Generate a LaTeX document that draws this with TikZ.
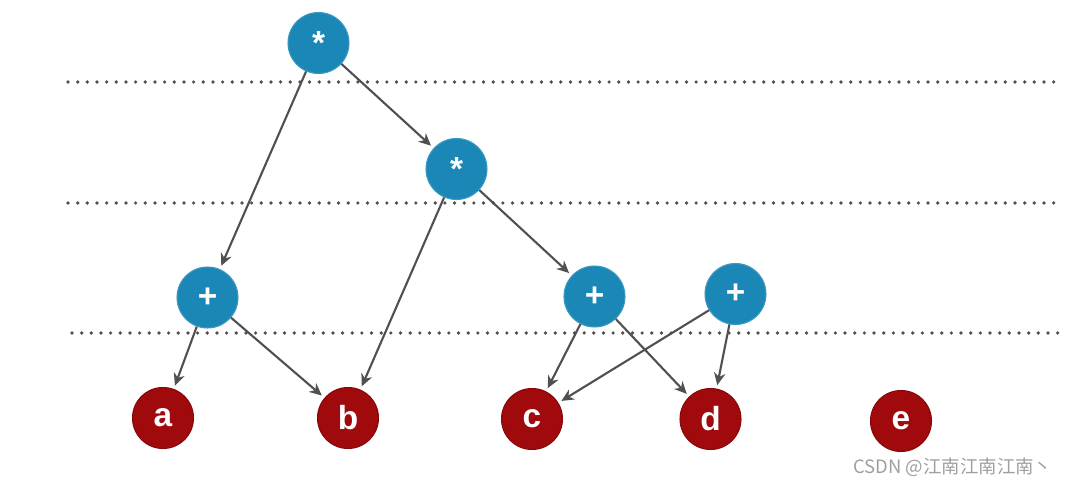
\documentclass[tikz,border=0pt]{standalone}
\usepackage{fontspec}
\setmainfont{Liberation Sans}
\newfontfamily\cjk{Noto Sans CJK SC}
\usepackage{xcolor}
\usetikzlibrary{arrows.meta,positioning}

\definecolor{opblue}{HTML}{1B87B6}
\definecolor{leafred}{HTML}{A00A0C}
\definecolor{edgegray}{HTML}{505050}

\begin{document}
\begin{tikzpicture}[
    x=0.02cm, y=-0.02cm,
    op/.style={circle, fill=opblue, draw=opblue!85!white, line width=0.6pt, minimum size=1.22cm, inner sep=0pt, text=white, font=\bfseries\fontsize{19}{19}\selectfont},
    leaf/.style={circle, fill=leafred, draw=leafred!85!black, line width=0.6pt, minimum size=1.22cm, inner sep=0pt, text=white, font=\bfseries\fontsize{19}{19}\selectfont},
    edge/.style={-{Stealth[length=7pt,width=6.5pt]}, line width=1.2pt, draw=edgegray, shorten >=2pt},
    level/.style={line width=2.1pt, draw=edgegray, dash pattern=on 0pt off 5.5pt, line cap=round}
]
    \useasboundingbox (0,0) rectangle (1073,486);

    % level separators
    \draw[level] (68,82) -- (1060,82);
    \draw[level] (68,203) -- (1060,203);
    \draw[level] (72,333) -- (1062,333);

    % operators
    \node[op] (mul1) at (318.5,43) {*};
    \node[op] (mul2) at (456.5,169) {*};
    \node[op] (add1) at (207.5,297.5) {+};
    \node[op] (add2) at (594.5,296.5) {+};
    \node[op] (add3) at (735.5,294) {+};

    % operands
    \node[leaf] (a) at (163,418) {a};
    \node[leaf] (b) at (348,418) {b};
    \node[leaf] (c) at (532,419) {c};
    \node[leaf] (d) at (710.5,419) {d};
    \node[leaf] (e) at (901,421) {e};

    \draw[edge] (mul1) -- (add1);
    \draw[edge] (mul1) -- (mul2);
    \draw[edge] (mul2) -- (b);
    \draw[edge] (mul2) -- (add2);
    \draw[edge] (add1) -- (a);
    \draw[edge] (add1) -- (b);
    \draw[edge] (add2) -- (c);
    \draw[edge] (add2) -- (d);
    \draw[edge] (add3) -- (c);
    \draw[edge] (add3) -- (d);

    \node[text=gray!75, font=\cjk\fontsize{10.5}{11}\selectfont, anchor=west, inner sep=0pt] (csdn) at (853,467) {CSDN @江南江南江南丶};
\end{tikzpicture}
\end{document}
